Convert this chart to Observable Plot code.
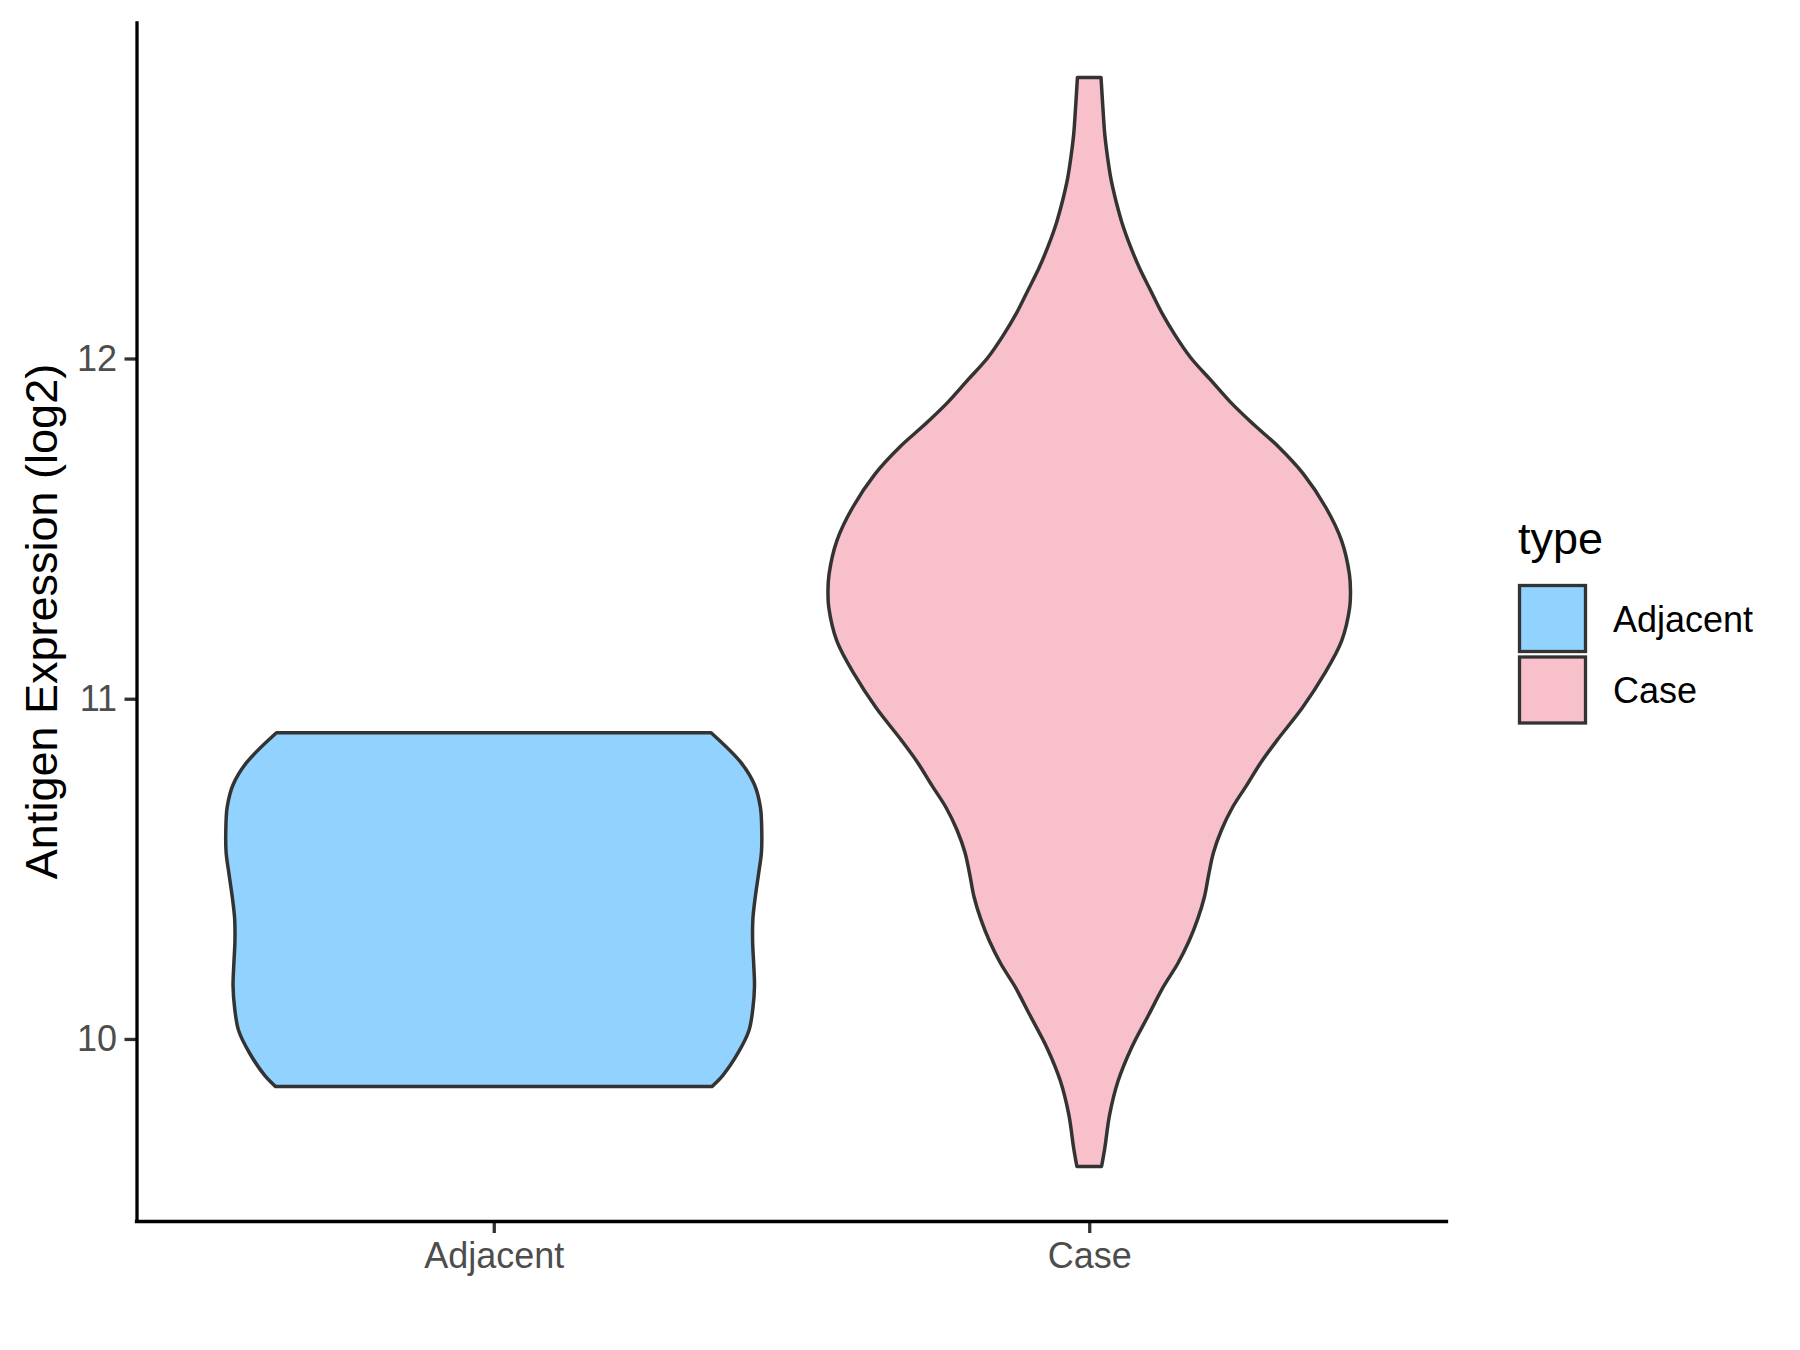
<!DOCTYPE html>
<html>
<head>
<meta charset="utf-8">
<script src="https://cdn.jsdelivr.net/npm/d3@7"></script>
<script src="https://cdn.jsdelivr.net/npm/@observablehq/plot@0.6"></script>
<style>
  html, body { margin: 0; padding: 0; background: #fff; }
  #chart { width: 1800px; height: 1350px; }
</style>
</head>
<body>
<div id="chart"></div>
<script>
const categories = ["Adjacent", "Case"];
const fills = ["#92D2FE", "#F8C0CB"];
const yTicks = [10, 11, 12];
const yTitle = "Antigen Expression (log2)";
const legendTitle = "type";

const adjacentValues = [9.860, 9.893, 9.958, 10.024, 10.090, 10.155, 10.221, 10.287, 10.353, 10.418, 10.484, 10.549, 10.615, 10.681, 10.747, 10.812, 10.900];
const adjacentDensity = [0.814, 0.855, 0.911, 0.952, 0.967, 0.973, 0.970, 0.966, 0.967, 0.976, 0.988, 0.999, 1.000, 0.995, 0.973, 0.923, 0.811];

const caseValues = [9.625, 9.679, 9.777, 9.875, 9.973, 10.071, 10.155, 10.221, 10.287, 10.353, 10.418, 10.484, 10.549, 10.615, 10.681, 10.746, 10.812, 10.879, 10.974, 11.072, 11.170, 11.268, 11.317, 11.366, 11.464, 11.562, 11.661, 11.740, 11.805, 11.871, 11.937, 12.003, 12.068, 12.134, 12.200, 12.265, 12.331, 12.397, 12.462, 12.502, 12.528, 12.594, 12.659, 12.725, 12.826];
const caseDensity = [0.046, 0.058, 0.076, 0.107, 0.157, 0.222, 0.278, 0.330, 0.372, 0.405, 0.430, 0.446, 0.464, 0.494, 0.535, 0.588, 0.640, 0.702, 0.796, 0.877, 0.942, 0.972, 0.975, 0.971, 0.942, 0.883, 0.799, 0.707, 0.615, 0.528, 0.453, 0.378, 0.321, 0.271, 0.229, 0.188, 0.153, 0.123, 0.100, 0.088, 0.081, 0.068, 0.058, 0.052, 0.044];

// build table
const series = [
  {type: categories[0], values: adjacentValues, density: adjacentDensity},
  {type: categories[1], values: caseValues, density: caseDensity}
];
const rows = [];
series.forEach((s, i) => {
  s.values.forEach((v, j) => rows.push({type: s.type, pos: i + 1, value: v, density: s.density[j]}));
});

const halfWidth = 0.45;
const allValues = rows.map(d => d.value);
const vMin = d3.min(allValues), vMax = d3.max(allValues);
const pad = (vMax - vMin) * 0.05;
const yDomain = [vMin - pad, vMax + pad];
const xDomain = [0.4, categories.length + 0.6];

const font = "'Liberation Sans', Arial, Helvetica, sans-serif";

const plot = Plot.plot({
  width: 1800,
  height: 1350,
  marginLeft: 136.5,
  marginRight: 353.5,
  marginTop: 23,
  marginBottom: 129,
  style: {fontFamily: font, background: "#fff", overflow: "visible"},
  x: {type: "linear", domain: xDomain, axis: null},
  y: {type: "linear", domain: yDomain, axis: null},
  color: {domain: categories, range: fills},
  marks: [
    Plot.areaX(rows, {
      y: "value",
      x1: d => d.pos - d.density * halfWidth,
      x2: d => d.pos + d.density * halfWidth,
      z: "type",
      fill: "type",
      stroke: "#333333",
      strokeWidth: 3.5,
      strokeLinejoin: "round",
      curve: "catmull-rom"
    }),
    Plot.axisY(yTicks, {
      anchor: "left",
      tickSize: 12,
      tickPadding: 8,
      fontSize: 36,
      stroke: "#333333",
      fill: "#4D4D4D",
      strokeWidth: 3.3,
      tickFormat: d => String(d),
      label: null
    }),
    Plot.axisX(d3.range(1, categories.length + 1), {
      anchor: "bottom",
      tickSize: 12,
      tickPadding: 9,
      fontSize: 36,
      stroke: "#333333",
      fill: "#4D4D4D",
      strokeWidth: 3.3,
      tickFormat: i => categories[i - 1],
      label: null
    }),
    Plot.ruleX([xDomain[0]], {stroke: "#000", strokeWidth: 3.3, strokeLinecap: "square"}),
    Plot.ruleY([yDomain[0]], {stroke: "#000", strokeWidth: 3.3, strokeLinecap: "square"})
  ]
});

document.getElementById("chart").appendChild(plot);

const svg = d3.select(plot);
// y axis title
svg.append("text")
  .attr("transform", "translate(56.5,621.5) rotate(-90)")
  .attr("text-anchor", "middle")
  .attr("font-family", font)
  .attr("font-size", 45)
  .attr("fill", "#000")
  .text(yTitle);

// legend
const lg = svg.append("g").attr("font-family", font).attr("text-anchor", "start");
const lx = 1519.5, ly0 = 585.5, key = 66, gap = 5.5;
lg.append("text").attr("x", 1518).attr("y", 554).attr("font-size", 45).attr("fill", "#000").text(legendTitle);
categories.forEach((c, i) => {
  const y = ly0 + i * (key + gap);
  lg.append("rect").attr("x", lx).attr("y", y).attr("width", key).attr("height", key)
    .attr("fill", fills[i]).attr("stroke", "#333333").attr("stroke-width", 3.3);
  lg.append("text").attr("x", 1613).attr("y", y + key / 2 + 13)
    .attr("font-size", 36).attr("fill", "#000").text(c);
});
</script>
</body>
</html>
